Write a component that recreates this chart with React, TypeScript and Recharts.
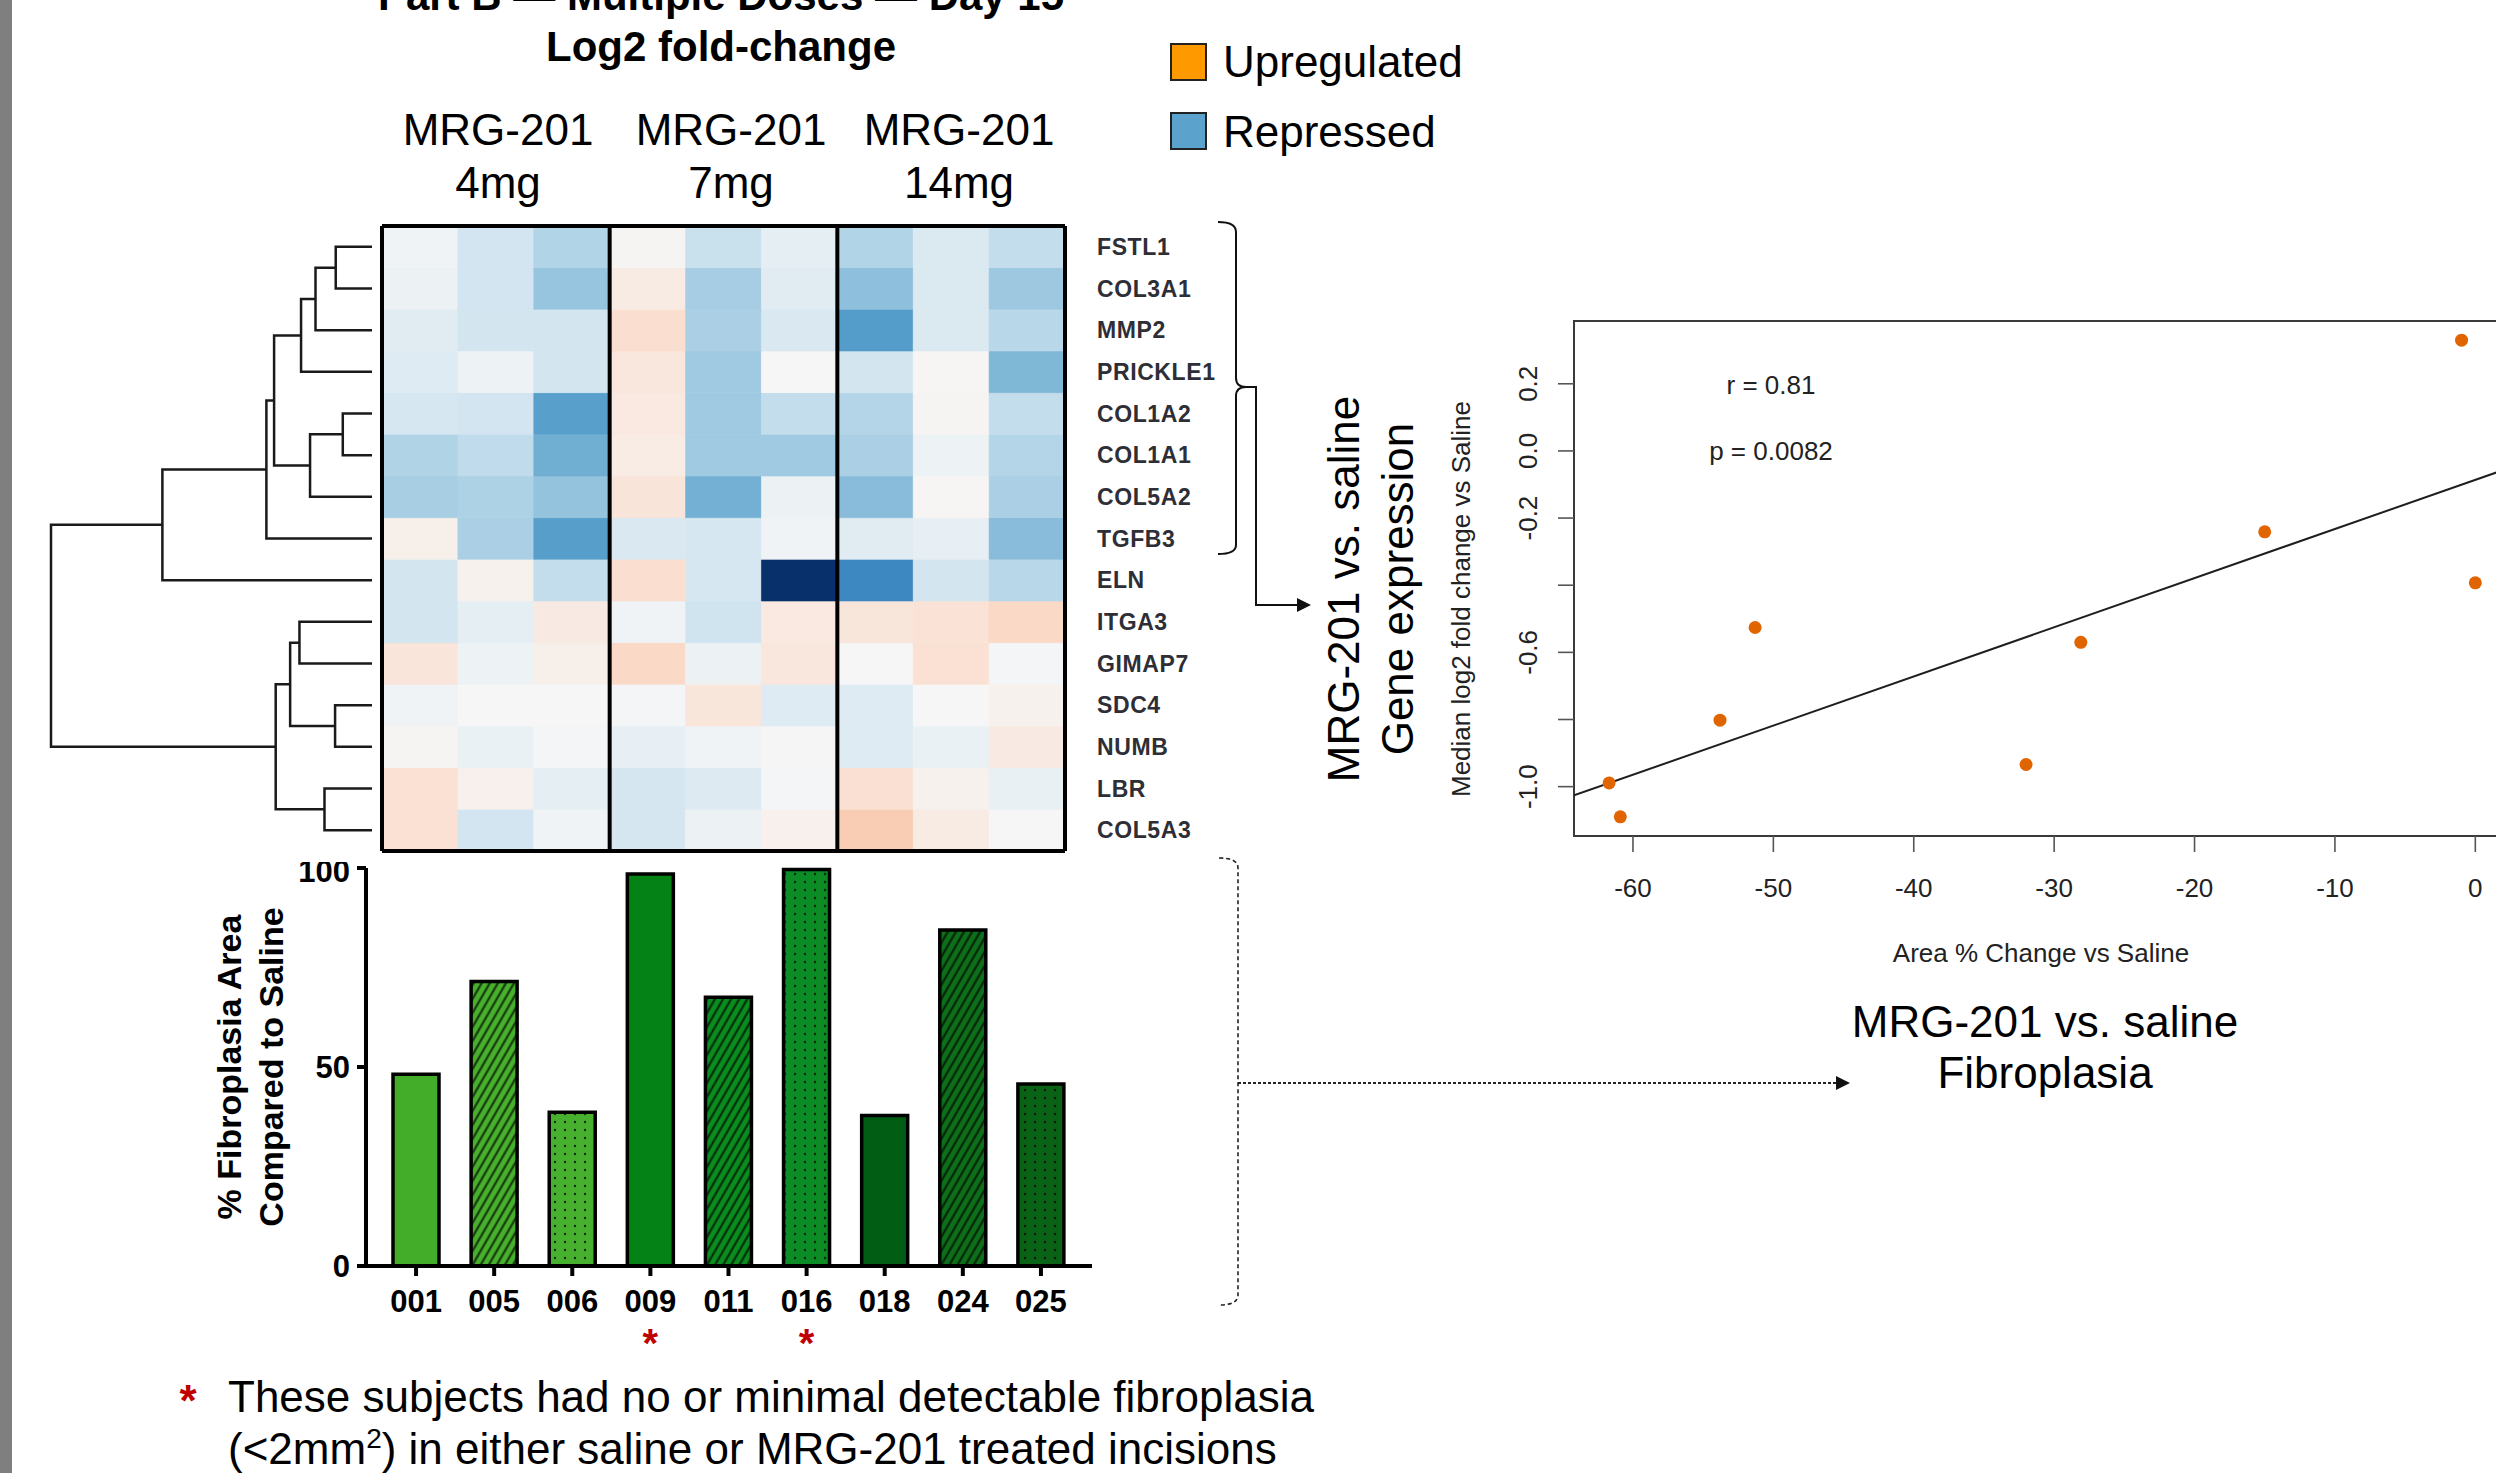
import React from "react";
import {
  Bar,
  BarChart,
  Cell,
  ReferenceArea,
  ReferenceLine,
  Scatter,
  ScatterChart,
  XAxis,
  YAxis,
} from "recharts";

const FONT = "'Liberation Sans', Arial, Helvetica, sans-serif";

// ---- heatmap (log2 fold-change, rows top -> bottom) ----
const GENES = [
  "FSTL1", "COL3A1", "MMP2", "PRICKLE1", "COL1A2", "COL1A1", "COL5A2", "TGFB3",
  "ELN", "ITGA3", "GIMAP7", "SDC4", "NUMB", "LBR", "COL5A3",
];
const DOSE_GROUPS = ["4mg", "7mg", "14mg"];
const SAMPLES = ["4mg-a", "4mg-b", "4mg-c", "7mg-a", "7mg-b", "7mg-c", "14mg-a", "14mg-b", "14mg-c"];
const LOG2FC = [
  [-0.05, -0.25, -0.43, 0.03, -0.3, -0.12, -0.43, -0.19, -0.33],
  [-0.07, -0.25, -0.55, 0.18, -0.5, -0.15, -0.58, -0.19, -0.53],
  [-0.15, -0.24, -0.24, 0.4, -0.47, -0.2, -0.8, -0.19, -0.4],
  [-0.16, -0.06, -0.24, 0.26, -0.52, 0.0, -0.24, 0.02, -0.63],
  [-0.22, -0.25, -0.77, 0.22, -0.52, -0.33, -0.42, 0.03, -0.33],
  [-0.44, -0.35, -0.68, 0.17, -0.52, -0.52, -0.47, -0.06, -0.42],
  [-0.49, -0.46, -0.56, 0.3, -0.67, -0.07, -0.6, 0.02, -0.47],
  [0.12, -0.47, -0.78, -0.2, -0.22, -0.05, -0.15, -0.1, -0.6],
  [-0.24, 0.08, -0.33, 0.4, -0.22, -2.0, -0.97, -0.24, -0.4],
  [-0.24, -0.12, 0.2, -0.05, -0.26, 0.22, 0.27, 0.33, 0.5],
  [0.28, -0.06, 0.12, 0.5, -0.07, 0.25, 0.0, 0.35, -0.02],
  [-0.05, 0.0, 0.0, -0.02, 0.27, -0.16, -0.16, 0.0, 0.08],
  [0.04, -0.08, -0.02, -0.1, -0.05, -0.01, -0.16, -0.08, 0.2],
  [0.35, 0.1, -0.12, -0.23, -0.17, -0.02, 0.37, 0.08, -0.09],
  [0.35, -0.25, -0.05, -0.23, -0.07, 0.1, 0.75, 0.18, 0.0],
];

// row clustering: [child a, child b, merge height]; L = leaf row, N = earlier merge
const DENDRO_MERGES: [string, string, number][] = [
  ["L0", "L1", 1.13],
  ["N0", "L2", 1.76],
  ["N1", "L3", 2.21],
  ["L4", "L5", 0.91],
  ["N3", "L6", 1.93],
  ["N2", "N4", 3.05],
  ["N5", "L7", 3.29],
  ["N6", "L8", 6.53],
  ["L9", "L10", 2.26],
  ["L11", "L12", 1.15],
  ["N8", "N9", 2.55],
  ["L13", "L14", 1.48],
  ["N10", "N11", 3.0],
  ["N7", "N12", 10],
];

// ---- fibroplasia bars ----
const SUBJECTS = ["001", "005", "006", "009", "011", "016", "018", "024", "025"];
const FIBRO_PCT = [48.2, 71.5, 38.6, 98.5, 67.5, 99.6, 37.8, 84.4, 45.7];
const MINIMAL_FIBRO = ["009", "016"];

// ---- correlation scatter ----
const AREA_CHANGE = [-0.98, 0, -15, -28.1, -32, -51.3, -53.8, -61.7, -60.9];
const MEDIAN_LFC = [0.33, -0.393, -0.241, -0.57, -0.934, -0.526, -0.802, -0.989, -1.09];
const FIT_X = [-64.2, 2.47];
const FIT_Y = [-1.026, -0.05];
const SC_X_TICKS = [-60, -50, -40, -30, -20, -10, 0];
const SC_Y_TICKS = [-1.0, -0.8, -0.6, -0.4, -0.2, 0.0, 0.2];
const SC_Y_LABELS = ["-1.0", "", "-0.6", "", "-0.2", "0.0", "0.2"];

// styles
const HEAT_STOPS: [number, string][] = [
  [-2.0, "#08306B"],
  [-1.0, "#3A85BF"],
  [-0.75, "#5BA2CC"],
  [-0.5, "#A6CDE3"],
  [-0.25, "#D2E5F0"],
  [0, "#F6F6F6"],
  [0.25, "#F9E7DD"],
  [0.5, "#FBD9C7"],
  [0.75, "#F9CDB3"],
];
const BAR_BASE = ["#43AD2A", "#47B02D", "#47B12F", "#058216", "#0A8C1F", "#0B8C24", "#015D13", "#0E6F1A", "#0A6216"];
const BAR_TEXTURE = ["solid", "hatch", "dots", "solid", "hatch", "dots", "solid", "hatch", "dots"];

function hex(c: string) {
  return [1, 3, 5].map((i) => parseInt(c.slice(i, i + 2), 16));
}

function heatColor(v: number) {
  if (v <= HEAT_STOPS[0][0]) return HEAT_STOPS[0][1];
  for (let i = 1; i < HEAT_STOPS.length; i++) {
    const [v0, c0] = HEAT_STOPS[i - 1];
    const [v1, c1] = HEAT_STOPS[i];
    if (v <= v1) {
      const t = (v - v0) / (v1 - v0);
      const a = hex(c0);
      const b = hex(c1);
      return `rgb(${a.map((x, k) => Math.round(x + (b[k] - x) * t)).join(",")})`;
    }
  }
  return HEAT_STOPS[HEAT_STOPS.length - 1][1];
}

function Dendrogram() {
  const pos: Record<string, { h: number; y: number }> = {};
  GENES.forEach((_, i) => (pos[`L${i}`] = { h: 0, y: i + 0.5 }));
  const links = DENDRO_MERGES.map(([a, b, h], k) => {
    const A = pos[a];
    const B = pos[b];
    pos[`N${k}`] = { h, y: (A.y + B.y) / 2 };
    return [
      { h: A.h, y: A.y },
      { h, y: A.y },
      { h, y: B.y },
      { h: B.h, y: B.y },
    ];
  });
  return (
    <ScatterChart width={345} height={645} margin={{ top: 10, right: 13, bottom: 10, left: 11 }}>
      <XAxis type="number" dataKey="h" domain={[0, 10]} reversed hide />
      <YAxis type="number" dataKey="y" domain={[0, 15]} reversed hide />
      {links.map((pts, i) => (
        <Scatter
          key={i}
          data={pts}
          line={{ stroke: "#1a1a1a", strokeWidth: 2.5 }}
          lineType="joint"
          shape={() => <g />}
          isAnimationActive={false}
        />
      ))}
    </ScatterChart>
  );
}

function Heatmap() {
  const data = SAMPLES.map((s) => {
    const row: Record<string, string | number> = { sample: s };
    GENES.forEach((_, r) => (row[`g${r}`] = 1));
    return row;
  });
  const rowsBottomUp = GENES.map((_, r) => r).reverse();
  const frame = { stroke: "#000", strokeWidth: 4, ifOverflow: "visible" as const };
  return (
    <BarChart
      width={887}
      height={633}
      data={data}
      margin={{ top: 4, right: 0, bottom: 4, left: 4 }}
      barCategoryGap={0}
      barGap={0}
    >
      <XAxis dataKey="sample" type="category" hide />
      <YAxis
        type="number"
        orientation="right"
        domain={[0, 15]}
        width={200}
        ticks={GENES.map((_, i) => i + 0.5)}
        interval={0}
        tickFormatter={(v: number) => GENES[GENES.length - 1 - Math.floor(v)]}
        axisLine={false}
        tickLine={false}
        tickMargin={26}
        tick={{ fontSize: 23, fontWeight: 700, fill: "#2e2e36", fontFamily: FONT, letterSpacing: 0.6 }}
      />
      {rowsBottomUp.map((r) => (
        <Bar key={GENES[r]} dataKey={`g${r}`} stackId="heat" isAnimationActive={false}>
          {SAMPLES.map((s, c) => {
            const col = heatColor(LOG2FC[r][c]);
            return <Cell key={s} fill={col} stroke={col} strokeWidth={0.6} />;
          })}
        </Bar>
      ))}
      <ReferenceLine y={0} {...frame} />
      <ReferenceLine y={15} {...frame} />
      <ReferenceLine x={SAMPLES[0]} position="start" {...frame} />
      <ReferenceLine x={SAMPLES[2]} position="end" {...frame} />
      <ReferenceLine x={SAMPLES[5]} position="end" {...frame} />
      <ReferenceLine x={SAMPLES[8]} position="end" {...frame} />
    </BarChart>
  );
}

function SubjectTick(props: any) {
  const { x, y, payload } = props;
  const flagged = MINIMAL_FIBRO.includes(payload.value);
  return (
    <g>
      <text x={x} y={y + 34} textAnchor="middle" fontSize={31} fontWeight={700} fill="#000" fontFamily={FONT}>
        {payload.value}
      </text>
      {flagged && (
        <text x={x} y={y + 79} textAnchor="middle" fontSize={40} fontWeight={700} fill="#C00000" fontFamily={FONT}>
          *
        </text>
      )}
    </g>
  );
}

function PctTick(props: any) {
  const { x, y, payload } = props;
  return (
    <text x={x} y={y + 11} textAnchor="end" fontSize={31} fontWeight={700} fill="#000" fontFamily={FONT}>
      {payload.value}
    </text>
  );
}

function FibroBars() {
  const data = SUBJECTS.map((s, i) => ({ subject: s, pct: FIBRO_PCT[i] }));
  const axisStroke = { stroke: "#000", strokeWidth: 4 };
  return (
    <BarChart width={902} height={504} data={data} margin={{ top: 6, right: 10, bottom: 0, left: 0 }}>
      <defs>
        {SUBJECTS.map((s, i) =>
          BAR_TEXTURE[i] === "hatch" ? (
            <pattern key={s} id={`fibro-tex-${i}`} patternUnits="userSpaceOnUse" width={7} height={7} patternTransform="rotate(30)">
              <rect width={7} height={7} fill={BAR_BASE[i]} />
              <line x1={3.5} y1={0} x2={3.5} y2={7} stroke="#000" strokeWidth={2} strokeOpacity={0.75} />
            </pattern>
          ) : BAR_TEXTURE[i] === "dots" ? (
            <pattern key={s} id={`fibro-tex-${i}`} patternUnits="userSpaceOnUse" width={10} height={8}>
              <rect width={10} height={8} fill={BAR_BASE[i]} />
              <circle cx={5} cy={4} r={1.2} fill="#000" fillOpacity={0.75} />
            </pattern>
          ) : (
            <pattern key={s} id={`fibro-tex-${i}`} patternUnits="userSpaceOnUse" width={10} height={10}>
              <rect width={10} height={10} fill={BAR_BASE[i]} />
            </pattern>
          )
        )}
      </defs>
      <XAxis
        dataKey="subject"
        axisLine={axisStroke}
        tickLine={axisStroke}
        tickSize={10}
        height={100}
        interval={0}
        padding={{ left: 11, right: 12 }}
        tick={<SubjectTick />}
      />
      <YAxis
        domain={[0, 100]}
        ticks={[0, 50, 100]}
        width={166}
        axisLine={axisStroke}
        tickLine={axisStroke}
        tickSize={9}
        tickMargin={7}
        tick={<PctTick />}
      />
      <Bar dataKey="pct" barSize={46} isAnimationActive={false}>
        {SUBJECTS.map((s, i) => (
          <Cell key={s} fill={`url(#fibro-tex-${i})`} stroke="#000" strokeWidth={3.5} />
        ))}
      </Bar>
    </BarChart>
  );
}

function RotatedYTick(props: any) {
  const { x, y, payload } = props;
  const label = SC_Y_LABELS[SC_Y_TICKS.findIndex((t) => Math.abs(t - payload.value) < 1e-6)] ?? "";
  return (
    <text x={x} y={y} transform={`rotate(-90 ${x} ${y})`} textAnchor="middle" fontSize={26} fill="#222" fontFamily={FONT}>
      {label}
    </text>
  );
}

function Correlation() {
  const points = AREA_CHANGE.map((x, i) => ({ x, y: MEDIAN_LFC[i] }));
  const fit = FIT_X.map((x, i) => ({ x, y: FIT_Y[i] }));
  const xDom: [number, number] = [-64.2, 2.47];
  const yDom: [number, number] = [-1.147, 0.387];
  const tickLine = { stroke: "#555", strokeWidth: 1.6 };
  return (
    <ScatterChart width={1110} height={636} margin={{ top: 21, right: 20, bottom: 0, left: 0 }}>
      <XAxis
        type="number"
        dataKey="x"
        domain={xDom}
        allowDataOverflow
        ticks={SC_X_TICKS}
        interval={0}
        axisLine={false}
        tickLine={tickLine}
        tickSize={16}
        tickMargin={27}
        height={100}
        tick={{ fontSize: 26, fill: "#222", fontFamily: FONT }}
      />
      <YAxis
        type="number"
        dataKey="y"
        domain={yDom}
        allowDataOverflow
        ticks={SC_Y_TICKS}
        interval={0}
        width={154}
        axisLine={false}
        tickLine={tickLine}
        tickSize={16}
        tickMargin={21}
        tick={<RotatedYTick />}
      />
      <ReferenceArea x1={xDom[0]} x2={xDom[1]} y1={yDom[0]} y2={yDom[1]} fill="none" stroke="#3a3a3a" strokeWidth={2} ifOverflow="visible" />
      <Scatter data={fit} line={{ stroke: "#1e1e1e", strokeWidth: 2 }} lineType="joint" shape={() => <g />} isAnimationActive={false} />
      <Scatter
        data={points}
        isAnimationActive={false}
        shape={(p: any) => <circle cx={p.cx} cy={p.cy} r={6.5} fill="#E06400" />}
      />
    </ScatterChart>
  );
}

function Annotations() {
  const headerX = [498, 731, 959];
  return (
    <svg width={2496} height={1473} style={{ position: "absolute", left: 0, top: 0, pointerEvents: "none" }} fontFamily={FONT}>
      <text x={721} y={10} textAnchor="middle" fontSize={42} fontWeight={700}>
        Part B — Multiple Doses — Day 15
      </text>
      <text x={721} y={61} textAnchor="middle" fontSize={42} fontWeight={700}>
        Log2 fold-change
      </text>
      {DOSE_GROUPS.map((g, i) => (
        <g key={g}>
          <text x={headerX[i]} y={145} textAnchor="middle" fontSize={44}>MRG-201</text>
          <text x={headerX[i]} y={198} textAnchor="middle" fontSize={44}>{g}</text>
        </g>
      ))}

      <rect x={1171} y={44} width={35} height={36} fill="#FF9900" stroke="#222" strokeWidth={2} />
      <text x={1223} y={77} fontSize={44}>Upregulated</text>
      <rect x={1171} y={113} width={35} height={36} fill="#5BA3CC" stroke="#222" strokeWidth={2} />
      <text x={1223} y={147} fontSize={44}>Repressed</text>

      <path
        d="M1218,222 Q1236,222 1236,232 L1236,378 Q1236,387 1246,387 Q1236,387 1236,396 L1236,545 Q1236,554 1218,554"
        fill="none"
        stroke="#111"
        strokeWidth={2}
      />
      <path d="M1246,387 L1256,387 L1256,605 L1298,605" fill="none" stroke="#111" strokeWidth={2} />
      <polygon points="1297,598 1311,605 1297,612" fill="#111" />
      <text x={1359} y={589} transform="rotate(-90 1359 589)" textAnchor="middle" fontSize={44}>MRG-201 vs. saline</text>
      <text x={1413} y={589} transform="rotate(-90 1413 589)" textAnchor="middle" fontSize={44}>Gene expression</text>

      <text x={241} y={1067} transform="rotate(-90 241 1067)" textAnchor="middle" fontSize={34} fontWeight={700}>% Fibroplasia Area</text>
      <text x={283} y={1067} transform="rotate(-90 283 1067)" textAnchor="middle" fontSize={34} fontWeight={700}>Compared to Saline</text>

      <path
        d="M1219,858 Q1238,858 1238,868 L1238,1295 Q1238,1305 1219,1305"
        fill="none"
        stroke="#222"
        strokeWidth={1.6}
        strokeDasharray="4 3"
      />
      <path d="M1238,1083 L1838,1083" stroke="#222" strokeWidth={2} strokeDasharray="3 2" />
      <polygon points="1836,1076 1850,1083 1836,1090" fill="#111" />
      <text x={2045} y={1037} textAnchor="middle" fontSize={44}>MRG-201 vs. saline</text>
      <text x={2045} y={1088} textAnchor="middle" fontSize={44}>Fibroplasia</text>

      <text x={1771} y={394} textAnchor="middle" fontSize={26} fill="#222">r = 0.81</text>
      <text x={1771} y={460} textAnchor="middle" fontSize={26} fill="#222">p = 0.0082</text>
      <text x={2041} y={962} textAnchor="middle" fontSize={26} fill="#222">Area % Change vs Saline</text>
      <text x={1470} y={599} transform="rotate(-90 1470 599)" textAnchor="middle" fontSize={26} fill="#222">
        Median log2 fold change vs Saline
      </text>

      <text x={188} y={1416} textAnchor="middle" fontSize={44} fontWeight={700} fill="#C00000">*</text>
      <text x={228} y={1412} fontSize={44}>These subjects had no or minimal detectable fibroplasia</text>
      <text x={228} y={1464} fontSize={44}>
        (&lt;2mm
        <tspan fontSize={28} dy={-16}>2</tspan>
        <tspan dy={16}>) in either saline or MRG-201 treated incisions</tspan>
      </text>
    </svg>
  );
}

export default function App() {
  return (
    <div
      style={{
        position: "fixed",
        left: 0,
        top: 0,
        width: 2496,
        height: 1473,
        overflow: "hidden",
        background: "#fff",
        fontFamily: FONT,
      }}
    >
      <div style={{ position: "absolute", left: 0, top: 0, width: 12, height: 1473, background: "#7f7f7f" }} />
      <div style={{ position: "absolute", left: 40, top: 216 }}>
        <Dendrogram />
      </div>
      <div style={{ position: "absolute", left: 378, top: 222 }}>
        <Heatmap />
      </div>
      <div style={{ position: "absolute", left: 200, top: 862, width: 902, height: 504, overflow: "hidden" }}>
        <FibroBars />
      </div>
      <div style={{ position: "absolute", left: 1420, top: 300 }}>
        <Correlation />
      </div>
      <Annotations />
    </div>
  );
}
